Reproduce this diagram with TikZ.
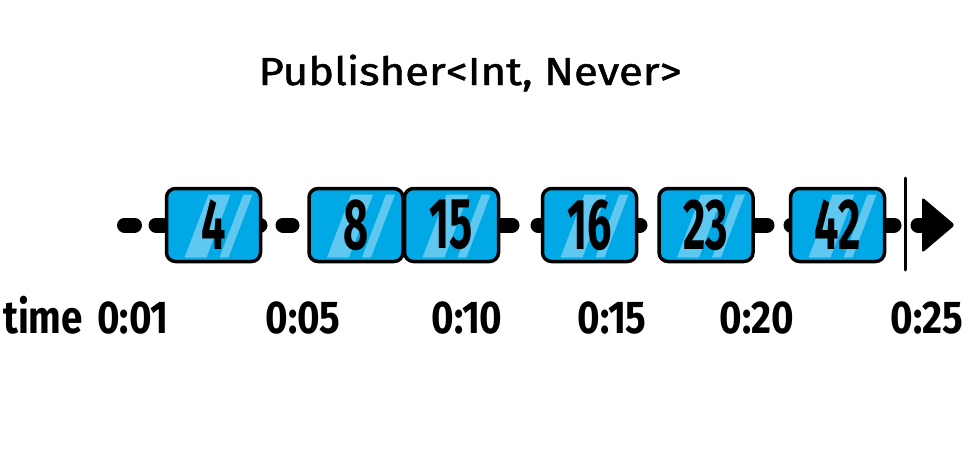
\documentclass[tikz,border=0pt]{standalone}
\usepackage{fontspec}
\setmainfont{Fira Sans}
\usetikzlibrary{calc}
\definecolor{boxblue}{RGB}{0,168,230}
\definecolor{glass}{RGB}{95,200,240}
\newcommand\numtxt[1]{\scalebox{0.6}[1]{#1}}
\newcommand\timetxt[1]{\scalebox{0.84}[1]{#1}}
\pgfdeclarelayer{bg}
\pgfsetlayers{bg,main}
\begin{document}
\begin{tikzpicture}[x=1pt,y=-1pt,
  valbox/.style={draw=black, line width=3.5pt, fill=boxblue, rounded corners=9pt,
    minimum width=94pt, minimum height=73pt, inner sep=0pt,
    font=\fontsize{72}{72}\selectfont\bfseries,
    path picture={
      \coordinate (nw) at (path picture bounding box.north west);
      \fill[glass, sharp corners] ($(nw)+(42,6)$) -- ($(nw)+(64,6)$) -- ($(nw)+(40,69)$) -- ($(nw)+(18,69)$) -- cycle;
      \fill[glass, sharp corners] ($(nw)+(77,6)$) -- ($(nw)+(86,6)$) -- ($(nw)+(62,69)$) -- ($(nw)+(53,69)$) -- cycle;
    }},
  track/.style={line width=15pt, line cap=round, black},
  timelbl/.style={anchor=base, inner sep=0pt, font=\fontsize{46}{46}\selectfont\bfseries},
  titlelbl/.style={anchor=base, inner sep=0pt, font=\fontsize{39}{39}\selectfont\addfontfeature{FakeBold=1.2}}
]
\useasboundingbox (0,0) rectangle (968,474);

\node[titlelbl] (title) at (470,85) {\scalebox{1.12}[1]{Publisher<Int, Never>}};

\node[valbox] (b4)  at (213.5,225) {\numtxt{4}};
\node[valbox] (b8)  at (356,225)   {\numtxt{8}};
\node[valbox] (b15) at (451.5,225) {\numtxt{15}};
\node[valbox] (b16) at (589.5,225) {\numtxt{16}};
\node[valbox] (b23) at (706,225)   {\numtxt{23}};
\node[valbox] (b42) at (837.5,225) {\numtxt{42}};

\begin{pgfonlayer}{bg}
  \draw[track] (124.5,225) -- (134.5,225);
  \draw[track] (156,225) -- (b4.center);
  \draw[track] (b4.center) -- (260,225);
  \draw[track] (283,225) -- (292,225);
  \draw[track] (b15.center) -- (512,225);
  \draw[track] (538,225) -- (b16.center);
  \draw[track] (b16.center) -- (640,225);
  \draw[track] (b23.center) -- (767,225);
  \draw[track] (791,225) -- (b42.center);
  \draw[track] (b42.center) -- (894,225);
\end{pgfonlayer}

\coordinate (endtop) at (905,178);
\coordinate (endbot) at (905,270);
\draw[line width=3pt, line cap=round] (endtop) -- (endbot);
\coordinate (arrowstart) at (918,225);
\coordinate (arrowmid) at (930,225);
\draw[track] (arrowstart) -- (arrowmid);
\fill[rounded corners=3pt] (922,197) -- (955,225) -- (922,253) -- cycle;

\node[timelbl] (ttime) at (43,333)  {\timetxt{time}};
\node[timelbl] (t01)   at (133,333) {\timetxt{0:01}};
\node[timelbl] (t05)   at (303,333) {\timetxt{0:05}};
\node[timelbl] (t10)   at (467,333) {\timetxt{0:10}};
\node[timelbl] (t15)   at (612,333) {\timetxt{0:15}};
\node[timelbl] (t20)   at (757,333) {\timetxt{0:20}};
\node[timelbl] (t25)   at (927,333) {\timetxt{0:25}};
\end{tikzpicture}
\end{document}
